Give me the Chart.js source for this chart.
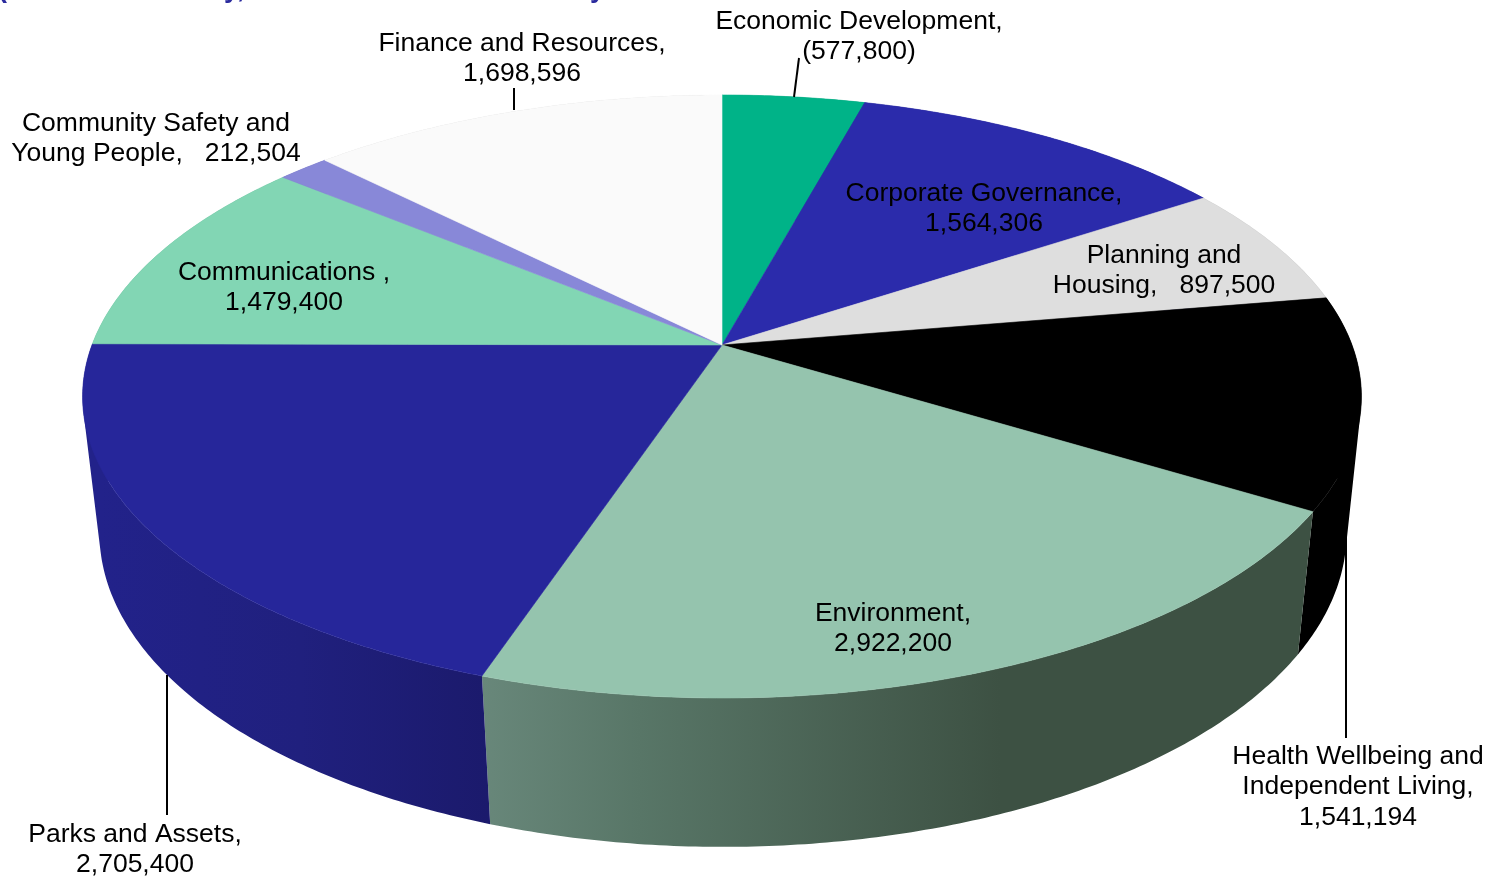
<!DOCTYPE html>
<html lang="en">
<head>
<meta charset="utf-8">
<title>Budget by service area</title>
<script src="https://cdn.jsdelivr.net/npm/chart.js@4"></script>
<style>
  html, body { margin: 0; padding: 0; background: #fff; overflow: hidden; }
  canvas { display: block; }
</style>
</head>
<body>
<canvas id="budget-pie" width="1489" height="879"></canvas>
<script>
// ---------------------------------------------------------------------------
// Data
// ---------------------------------------------------------------------------

const categories = [
  'Economic Development',
  'Corporate Governance',
  'Planning and Housing',
  'Health Wellbeing and Independent Living',
  'Environment',
  'Parks and Assets',
  'Communications',
  'Community Safety and Young People',
  'Finance and Resources',
];

// Negative figures are shown in brackets; the pie sizes slices by magnitude
const budgetValues = [-577800, 1564306, 897500, 1541194, 2922200, 2705400, 1479400, 212504, 1698596];

// {v} is replaced by the formatted value of the slice
const labelLines = [
  ['Economic Development,', '{v}'],
  ['Corporate Governance,', '{v}'],
  ['Planning and', 'Housing,   {v}'],
  ['Health Wellbeing and', 'Independent Living,', '{v}'],
  ['Environment,', '{v}'],
  ['Parks and Assets,', '{v}'],
  ['Communications ,', '{v}'],
  ['Community Safety and', 'Young People,   {v}'],
  ['Finance and Resources,', '{v}'],
];

// ---------------------------------------------------------------------------
// Styles and layout
// ---------------------------------------------------------------------------

const topColors = ['#00b388', '#2b2bab', '#dedede', '#000000', '#95c4ae', '#26269a', '#82d6b4', '#8888d8', '#fafafa'];

// Wall colours as [x, colour] stops along the page; only the front slices show
const wallStops = [
  [[0, '#008a68']],
  [[0, '#20207f']],
  [[0, '#a8a8a8']],
  [[0, '#000000']],
  [[483, '#68877a'], [640, '#587667'], [1000, '#3d5143'], [1320, '#3d5143']],
  [[100, '#22228a'], [300, '#20207e'], [488, '#1b1a6c']],
  [[0, '#60a088']],
  [[0, '#6666a0']],
  [[0, '#bcbcbc']],
];

// Perspective of the two discs: x and y run over the unit circle
const topDisc = { cx: 722, cy: 345, a: 630, b: 292.7, k: 0.1708 };
const baseDisc = { cx: 723, cy: 481, a: 615, b: 305.5, k: 0.165 };

const labelFont = '26.5px "Liberation Sans", Arial, sans-serif';
const labelLineHeight = 30.5;
const labelAnchors = [
  [859, 21.5], [984, 193.5], [1164, 255.5], [1358, 756.5], [893, 613.5], [135, 834.5], [284, 272.5], [156, 123.5], [522, 43.5],
];
const leaderLines = [
  [799, 58, 794, 97],
  [514, 88, 514, 110],
  [167, 675, 167, 815],
  [1346, 534, 1346, 738],
];

// Descenders of the page heading that sits above the chart
const headingFont = 'bold 27px "Liberation Sans", Arial, sans-serif';
const headingBits = [['(', -2], ['y,', 224], ['y', 590]];

// ---------------------------------------------------------------------------
// Helpers
// ---------------------------------------------------------------------------

function project(disc, angle) {
  const x = Math.cos(angle);
  const y = Math.sin(angle);
  const w = 1 - disc.k * y;
  return [disc.cx + disc.a * x / w, disc.cy + disc.b * y / w];
}

function arcAngles(start, end) {
  const steps = Math.max(2, Math.ceil((end - start) / 0.01));
  const angles = [];
  for (let i = 0; i <= steps; i++) {
    angles.push(start + (end - start) * i / steps);
  }
  return angles;
}

function tracePolygon(ctx, pts) {
  pts.forEach(([x, y], i) => (i ? ctx.lineTo(x, y) : ctx.moveTo(x, y)));
  ctx.closePath();
}

// Quads either side of the silhouette wind opposite ways and would cancel in
// a shared path, so put them all the same way round
function clockwise(pts) {
  let area = 0;
  pts.forEach(([x, y], i) => {
    const [nx, ny] = pts[(i + 1) % pts.length];
    area += x * ny - nx * y;
  });
  return area < 0 ? pts.slice().reverse() : pts;
}

function wallFill(ctx, stops) {
  if (stops.length === 1) return stops[0][1];
  const first = stops[0][0];
  const last = stops[stops.length - 1][0];
  const grad = ctx.createLinearGradient(first, 0, last, 0);
  stops.forEach(([x, color]) => grad.addColorStop((x - first) / (last - first), color));
  return grad;
}

function formatValue(value) {
  const text = Math.abs(value).toLocaleString('en-GB');
  return value < 0 ? `(${text})` : text;
}

// ---------------------------------------------------------------------------
// Tilted pie drawing, using the slice angles Chart.js worked out
// ---------------------------------------------------------------------------

const tiltedPie = {
  id: 'tiltedPie',
  beforeDatasetsDraw(chart) {
    const ctx = chart.ctx;
    const arcs = chart.getDatasetMeta(0).data;

    ctx.save();

    // Outer walls first, the top face covers whatever faces away.
    // One path of many quads so the silhouette between the discs stays straight.
    arcs.forEach((arc, i) => {
      const angles = arcAngles(arc.startAngle, arc.endAngle);
      ctx.beginPath();
      for (let n = 0; n < angles.length - 1; n++) {
        tracePolygon(ctx, clockwise([
          project(topDisc, angles[n]),
          project(topDisc, angles[n + 1]),
          project(baseDisc, angles[n + 1]),
          project(baseDisc, angles[n]),
        ]));
      }
      ctx.fillStyle = wallFill(ctx, wallStops[i]);
      ctx.fill();
    });

    arcs.forEach((arc, i) => {
      const pts = arcAngles(arc.startAngle, arc.endAngle).map(a => project(topDisc, a));
      pts.unshift([topDisc.cx, topDisc.cy]);
      ctx.beginPath();
      tracePolygon(ctx, pts);
      ctx.fillStyle = topColors[i];
      ctx.strokeStyle = topColors[i];
      ctx.lineWidth = 0.6;
      ctx.fill();
      ctx.stroke();
    });

    ctx.restore();
    return false; // the flat arcs are not wanted
  },
  afterDraw(chart) {
    const ctx = chart.ctx;
    ctx.save();

    ctx.strokeStyle = '#000';
    ctx.lineWidth = 2;
    leaderLines.forEach(([x1, y1, x2, y2]) => {
      ctx.beginPath();
      ctx.moveTo(x1, y1);
      ctx.lineTo(x2, y2);
      ctx.stroke();
    });

    ctx.fillStyle = '#000';
    ctx.font = labelFont;
    ctx.textAlign = 'center';
    ctx.textBaseline = 'middle';
    labelLines.forEach((lines, i) => {
      const [x, y] = labelAnchors[i];
      lines.forEach((line, n) => {
        ctx.fillText(line.replace('{v}', formatValue(budgetValues[i])), x, y + n * labelLineHeight);
      });
    });

    ctx.fillStyle = '#2b2b9e';
    ctx.font = headingFont;
    ctx.textAlign = 'left';
    ctx.textBaseline = 'alphabetic';
    headingBits.forEach(([text, x]) => ctx.fillText(text, x, -3));

    ctx.restore();
  },
};

// ---------------------------------------------------------------------------
// Chart
// ---------------------------------------------------------------------------

new Chart(document.getElementById('budget-pie'), {
  type: 'pie',
  data: {
    labels: categories,
    datasets: [{ data: budgetValues, backgroundColor: topColors, borderWidth: 0 }],
  },
  options: {
    responsive: false,
    animation: false,
    events: [],
    plugins: { legend: { display: false }, tooltip: { enabled: false } },
  },
  plugins: [tiltedPie],
});
</script>
</body>
</html>
